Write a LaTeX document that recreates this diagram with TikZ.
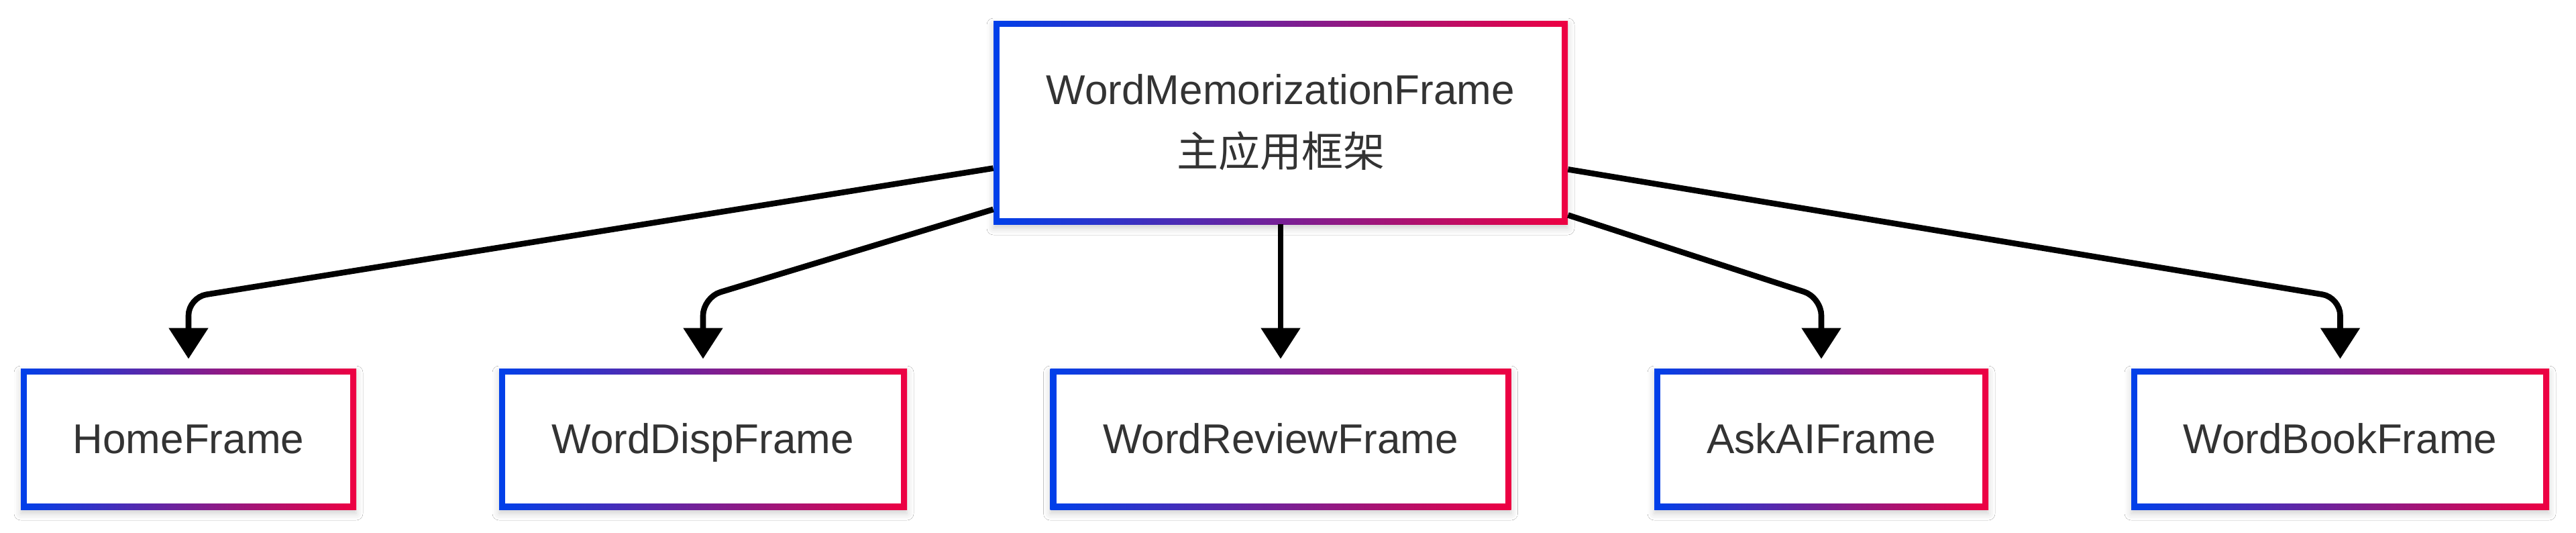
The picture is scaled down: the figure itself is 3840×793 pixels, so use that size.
\documentclass[tikz,border=0pt]{standalone}
\usepackage{fontspec}
\setmainfont{Liberation Sans}
\newfontfamily\cjkfont{Noto Sans CJK SC}
\usetikzlibrary{arrows.meta,shadows.blur}
\definecolor{gblue}{RGB}{0,64,234}
\definecolor{gred}{RGB}{238,0,66}
\definecolor{txt}{RGB}{51,51,51}
\tikzset{
  gbox/.style={rectangle, inner sep=0pt, draw=none,
    left color=gblue, right color=gred,
    blur shadow={shadow xshift=0pt, shadow yshift=-3pt, shadow blur radius=5pt, shadow opacity=18},
    path picture={\fill[white] ([xshift=4.5pt,yshift=4.5pt]path picture bounding box.south west) rectangle ([xshift=-4.5pt,yshift=-4.5pt]path picture bounding box.north east);},
    text=txt, font=\fontsize{31pt}{46.5pt}\selectfont, align=center},
  leafbox/.style={gbox, minimum height=105pt, text height=22pt, text depth=1pt},
  conn/.style={line width=4.3pt, rounded corners=13.5pt, -{Triangle[width=28.5pt,length=23pt]}, shorten >=7pt},
}
\begin{document}
\begin{tikzpicture}[x=0.5pt,y=-0.5pt]
\useasboundingbox (0,0) rectangle (3840,793);
\fill[white] (0,0) rectangle (3840,793);
\node[gbox, minimum width=428pt, minimum height=151.5pt] (top) at (1909,182.5) {WordMemorizationFrame\\{\cjkfont 主应用框架}};
\node[leafbox, minimum width=250pt] (home) at (281,654) {HomeFrame};
\node[leafbox, minimum width=304pt] (disp) at (1048,654) {WordDispFrame};
\node[leafbox, minimum width=343.5pt] (review) at (1909,654) {WordReviewFrame};
\node[leafbox, minimum width=249pt] (ask) at (2715,654) {AskAIFrame};
\node[leafbox, minimum width=311.5pt] (book) at (3488.5,654) {WordBookFrame};
\coordinate (c1) at (281,443);
\coordinate (c2) at (1048,443);
\coordinate (c4) at (2715,443);
\coordinate (c5) at (3488.5,443);
\draw[conn] (top) -- (c1) -- (home.north);
\draw[conn] (top) -- (c2) -- (disp.north);
\draw[conn] (top) -- (review);
\draw[conn] (top) -- (c4) -- (ask.north);
\draw[conn] (top) -- (c5) -- (book.north);
\end{tikzpicture}
\end{document}
